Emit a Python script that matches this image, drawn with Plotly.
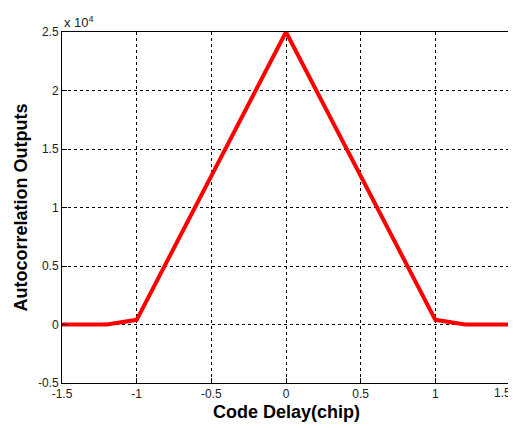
import plotly.graph_objects as go

code_delay = [-1.5, -1.2, -1.0, 0.0, 1.0, 1.2, 1.5]
autocorr = [0, 0, 400, 25000, 400, 0, 0]

x_ticks = [-1.5, -1, -0.5, 0, 0.5, 1, 1.5]
x_ticktext = ["-1.5", "-1", "-0.5", "0", "0.5", "1", "1.5"]
y_ticks = [-5000, 0, 5000, 10000, 15000, 20000, 25000]
y_ticktext = ["-0.5", "0", "0.5", "1", "1.5", "2", "2.5"]

fig = go.Figure()
fig.add_trace(go.Scatter(x=code_delay, y=autocorr, mode="lines",
                         line=dict(color="#ff0000", width=4), showlegend=False))

font = "Liberation Sans, Arial, sans-serif"
tickfont = dict(family=font, size=12, color="#222")
axis_common = dict(showline=True, linecolor="black", linewidth=1, mirror=True,
                   ticks="inside", ticklen=5, tickcolor="black", automargin=False,
                   showgrid=True, gridcolor="black", gridwidth=1, griddash="3px,3px",
                   zeroline=False, tickfont=tickfont)

# last x tick label is drawn as an annotation so it can sit flush against the page edge
x_ticktext_axis = x_ticktext[:-1] + [""]
fig.update_xaxes(range=[x_ticks[0], x_ticks[-1]], tickvals=x_ticks, ticktext=x_ticktext_axis, **axis_common)
fig.update_yaxes(range=[y_ticks[0], y_ticks[-1]], tickvals=y_ticks, ticktext=y_ticktext, **axis_common)

fig.add_annotation(text=x_ticktext[-1], xref="x", yref="paper", x=x_ticks[-1], y=0,
                   xanchor="right", yanchor="top", xshift=3, yshift=-1, showarrow=False,
                   font=tickfont)
fig.add_annotation(text="<b>Code Delay(chip)</b>", xref="paper", yref="paper", x=0.5, y=0,
                   xanchor="center", yanchor="middle", yshift=-29, showarrow=False,
                   font=dict(family=font, size=18, color="black"))
fig.add_annotation(text="<b>Autocorrelation Outputs</b>", xref="paper", yref="paper", x=0, y=0.5,
                   xanchor="center", yanchor="middle", xshift=-42, textangle=-90, showarrow=False,
                   font=dict(family=font, size=18, color="black"))
fig.add_annotation(text="x 10<sup>4</sup>", xref="paper", yref="paper", x=0, y=1.0,
                   xanchor="left", yanchor="bottom", showarrow=False, yshift=0,
                   font=dict(family=font, size=13, color="#222"))

fig.update_layout(width=508, height=420, margin=dict(l=54, r=6, t=24, b=45),
                  plot_bgcolor="white", paper_bgcolor="white")

fig.write_html("out.html")
